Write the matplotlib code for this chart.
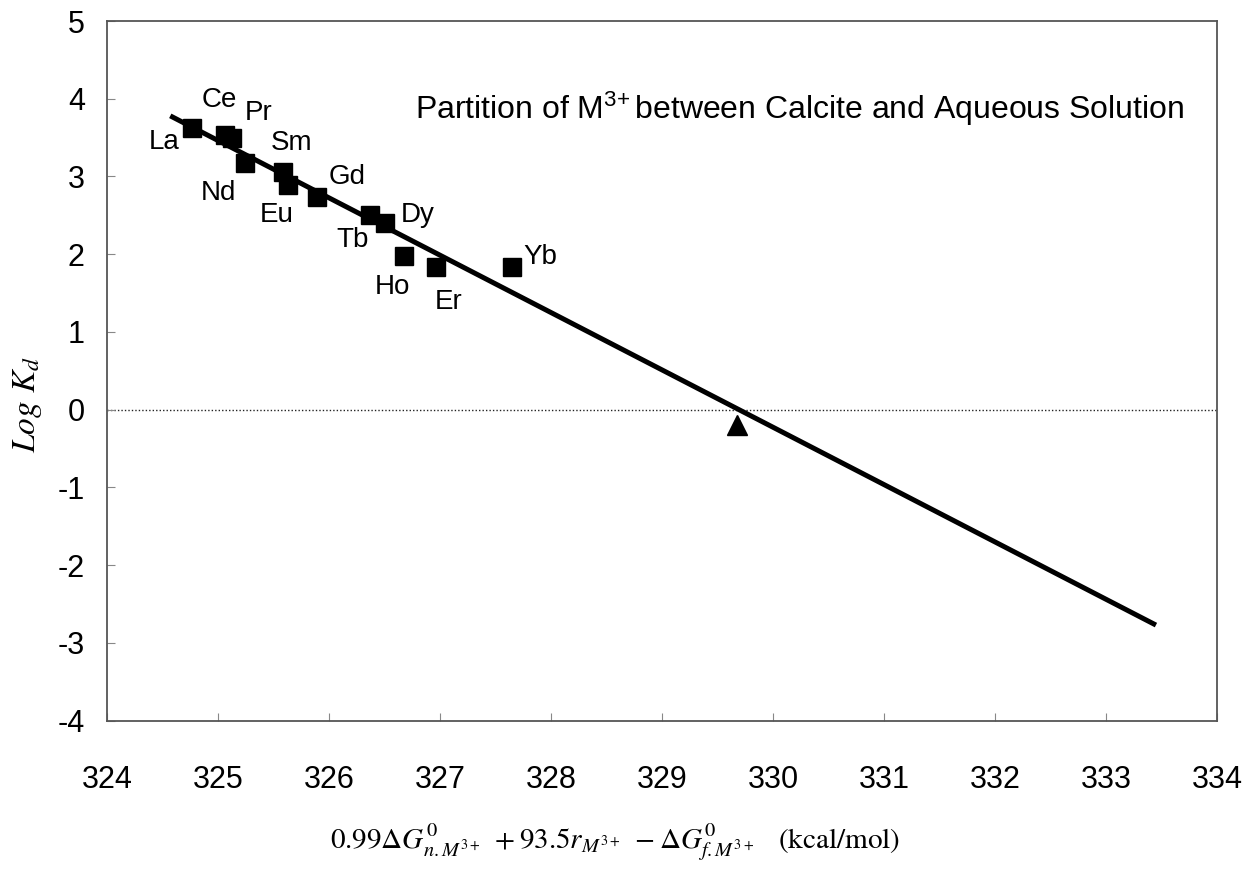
import matplotlib
matplotlib.use("Agg")
import matplotlib.pyplot as plt

# lanthanide partition data
elements = ["La", "Ce", "Pr", "Nd", "Sm", "Eu", "Gd", "Tb", "Dy", "Ho", "Er", "Yb"]
x_ree = [324.77, 325.06, 325.13, 325.24, 325.59, 325.63, 325.89, 326.37, 326.50, 326.68, 326.96, 327.65]
logkd_ree = [3.62, 3.53, 3.50, 3.17, 3.06, 2.89, 2.74, 2.50, 2.40, 1.98, 1.84, 1.84]
# label offsets from each point, in pixels (dx right, dy up)
label_dx = [-28, -5, 26, -26, 8, -11, 30, -18, 33, -12, 13, 28]
label_dy = [-14, 35, 25, -30, 29, -30, 20, -25, 8, -31, -35, 10]

x_tri = [329.68]
logkd_tri = [-0.20]

fit_x = [324.57, 333.45]
fit_y = [3.78, -2.77]

x_ticks = list(range(324, 335))
y_ticks = list(range(-4, 6))

plt.rcParams["font.family"] = ["Liberation Sans", "DejaVu Sans"]
plt.rcParams["axes.unicode_minus"] = False
plt.rcParams["mathtext.fontset"] = "custom"
plt.rcParams["mathtext.rm"] = "Liberation Sans"
plt.rcParams["mathtext.it"] = "Liberation Sans:italic"

fig = plt.figure(figsize=(12.44, 8.72), dpi=100)
ax = fig.add_axes([107 / 1244, 1 - 720.7 / 872, 1110 / 1244, 699.7 / 872])

ax.axhline(0, color="#222222", lw=1.0, ls=(0, (1, 1.5)), zorder=1)
ax.plot(fit_x, fit_y, color="black", lw=3.6, solid_capstyle="butt", zorder=2)
ax.plot(x_ree, logkd_ree, ls="none", marker="s", ms=13.5, color="black", zorder=3)
ax.plot(x_tri, logkd_tri, ls="none", marker="^", ms=15, color="black", zorder=3)

for name, xv, yv, dx, dy in zip(elements, x_ree, logkd_ree, label_dx, label_dy):
    ax.annotate(name, (xv, yv), xytext=(dx, dy), textcoords="offset pixels",
                ha="center", va="center", fontsize=20)

ax.set_xlim(324, 334)
ax.set_ylim(-4, 5)
ax.set_xticks(x_ticks)
ax.set_yticks(y_ticks)
ax.tick_params(direction="in", length=6, width=0.8, color="#888888", labelsize=22)
ax.tick_params(axis="x", pad=32)
ax.tick_params(axis="y", pad=16)
for spine in ax.spines.values():
    spine.set_color("#555555")
    spine.set_linewidth(1.3)

fig.text(415 / 1244, 1 - 119 / 872, r"Partition of M$^{3\!+}\!\!$ between Calcite and Aqueous Solution",
         ha="left", va="baseline", fontsize=23)

fig.text(27 / 1244, 1 - 405 / 872, r"$Log\ K_d$", rotation=90, ha="center", va="center",
         fontsize=24, math_fontfamily="stix")

fig.text(615 / 1244, 1 - 842 / 872,
         r"$0.99\Delta G^{0}_{n.M^{3+}}\ +93.5r_{M^{3+}}\ -\Delta G^{0}_{f.M^{3+}}\ \ \ \mathrm{(kcal/mol)}$",
         ha="center", va="center", fontsize=21, math_fontfamily="stix")

fig.savefig("out.png", dpi=100, facecolor="white")
